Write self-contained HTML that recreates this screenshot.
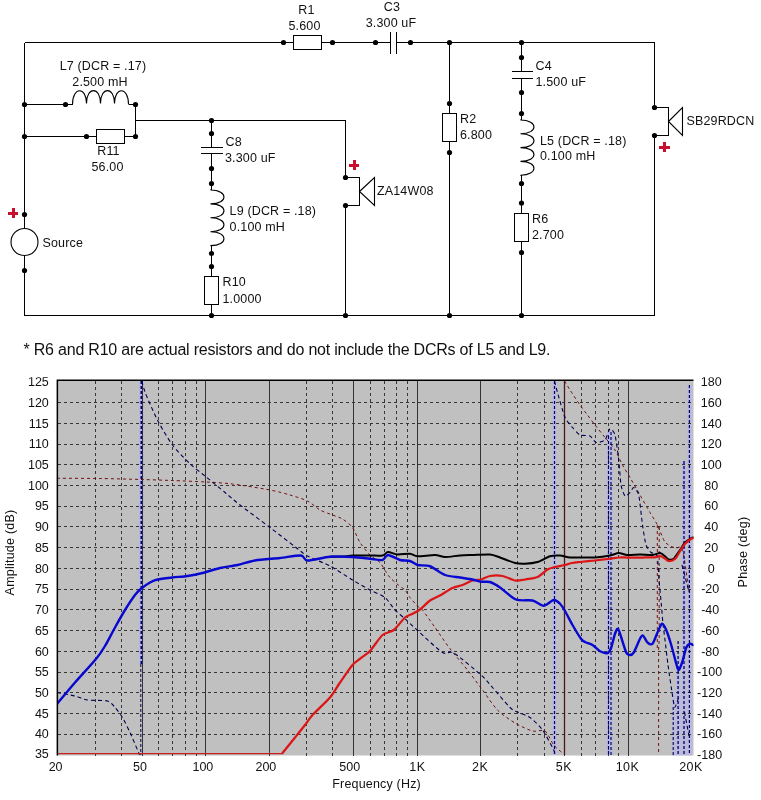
<!DOCTYPE html>
<html lang="en"><head><meta charset="utf-8"><title>Crossover schematic and response</title>
<style>
html,body{margin:0;padding:0;background:#fff;}
body{width:761px;height:800px;overflow:hidden;}
svg{display:block;will-change:transform;font-family:"Liberation Sans",Arial,sans-serif;}
.w{stroke:#000;stroke-width:1;shape-rendering:crispEdges;}
.c{stroke:#000;stroke-width:1.1;fill:none;}
.d{fill:#000;}
.r{fill:#fff;stroke:#000;stroke-width:1;shape-rendering:crispEdges;}
.s{fill:#fff;stroke:#000;stroke-width:1.1;}
.p{stroke:#c8102e;stroke-width:3;fill:none;shape-rendering:crispEdges;}
.t{font-size:12.5px;fill:#111;letter-spacing:0.15px;}
.n{font-size:16px;fill:#111;letter-spacing:-0.21px;}
.a{font-size:12.5px;fill:#111;}
.gh{stroke:#363636;stroke-width:1;stroke-dasharray:3 3;shape-rendering:crispEdges;}
.gv{stroke:#363636;stroke-width:1;stroke-dasharray:3 3;shape-rendering:crispEdges;}
.gs{stroke:#333;stroke-width:1;shape-rendering:crispEdges;}
.B{stroke:#0808d0;stroke-width:2.4;fill:none;stroke-linejoin:round;stroke-linecap:round;}
.R{stroke:#dc1616;stroke-width:2.25;fill:none;stroke-linejoin:round;stroke-linecap:round;}
.R1{stroke:#c82020;stroke-width:1.3;fill:none;}
.K{stroke:#000;stroke-width:2.0;fill:none;stroke-linejoin:round;stroke-linecap:round;}
.bp{stroke:#000050;stroke-width:1.1;fill:none;stroke-dasharray:4 3;}
.bpv{stroke:#00005c;stroke-width:1.3;fill:none;stroke-dasharray:3 2;}
.bh{stroke:#b4b4e6;stroke-width:4;fill:none;}
.rp{stroke:#701010;stroke-width:1;fill:none;stroke-dasharray:3 3;}
.rpv{stroke:#4a1a1a;stroke-width:1.3;fill:none;}
</style></head><body>
<svg width="761" height="800" viewBox="0 0 761 800">
<rect x="0" y="0" width="761" height="800" fill="#fff"/>

<g id="schematic">
<line class="w" x1="24.5" y1="42.5" x2="293.5" y2="42.5"/>
<line class="w" x1="321.5" y1="42.5" x2="390.5" y2="42.5"/>
<line class="w" x1="396.5" y1="42.5" x2="654.5" y2="42.5"/>
<line class="w" x1="24.5" y1="315.5" x2="654.5" y2="315.5"/>
<line class="w" x1="24.5" y1="42.5" x2="24.5" y2="228.5"/>
<line class="w" x1="24.5" y1="255.5" x2="24.5" y2="315.5"/>
<line class="w" x1="654.5" y1="42.5" x2="654.5" y2="107.5"/>
<line class="w" x1="654.5" y1="135.5" x2="654.5" y2="315.5"/>
<rect class="r" x="293.5" y="35.5" width="28" height="14"/>
<line class="w" x1="390.5" y1="32" x2="390.5" y2="53.5"/>
<line class="w" x1="396.5" y1="32" x2="396.5" y2="53.5"/>
<circle class="d" cx="283.5" cy="42.5" r="2.6"/>
<circle class="d" cx="332.5" cy="42.5" r="2.6"/>
<circle class="d" cx="375.5" cy="42.5" r="2.6"/>
<circle class="d" cx="410.5" cy="42.5" r="2.6"/>
<circle class="d" cx="449.5" cy="42.5" r="2.6"/>
<circle class="d" cx="521.5" cy="42.5" r="2.6"/>
<circle class="s" cx="24.5" cy="242" r="13.5"/>
<circle class="d" cx="24.5" cy="104.5" r="2.6"/>
<circle class="d" cx="24.5" cy="136.5" r="2.6"/>
<circle class="d" cx="24.5" cy="214.5" r="2.6"/>
<circle class="d" cx="24.5" cy="270.5" r="2.6"/>
<path class="p" d="M7.6,213.0H18.4M13.0,207.6V218.4"/>
<line class="w" x1="24.5" y1="104.5" x2="72.5" y2="104.5"/>
<circle class="d" cx="65.5" cy="104.5" r="2.6"/>
<path class="c" d="M72.5,104.5 c0,-18.2 14,-18.2 14,-1 c0,-17.2 14,-17.2 14,0 c0,-17.2 14,-17.2 14,0 c0,-17.2 14,-17.2 14,1"/>
<line class="w" x1="128.5" y1="104.5" x2="135.5" y2="104.5"/>
<circle class="d" cx="135.5" cy="104.5" r="2.6"/>
<line class="w" x1="24.5" y1="136.5" x2="96.5" y2="136.5"/>
<circle class="d" cx="86.5" cy="136.5" r="2.6"/>
<rect class="r" x="96.5" y="129.5" width="28" height="14"/>
<line class="w" x1="124.5" y1="136.5" x2="135.5" y2="136.5"/>
<circle class="d" cx="135.5" cy="136.5" r="2.6"/>
<line class="w" x1="135.5" y1="104.5" x2="135.5" y2="136.5"/>
<line class="w" x1="135.5" y1="120.5" x2="345.5" y2="120.5"/>
<line class="w" x1="345.5" y1="120.5" x2="345.5" y2="177.5"/>
<line class="w" x1="345.5" y1="205.5" x2="345.5" y2="315.5"/>
<circle class="d" cx="345.5" cy="177.5" r="2.6"/>
<circle class="d" cx="345.5" cy="205.5" r="2.6"/>
<circle class="d" cx="345.5" cy="315.5" r="2.6"/>
<line class="w" x1="345.5" y1="177.5" x2="359.5" y2="177.5"/>
<line class="w" x1="345.5" y1="205.5" x2="359.5" y2="205.5"/>
<line class="w" x1="359.5" y1="177.5" x2="359.5" y2="205.5"/>
<path class="c" d="M359.5,191.5 L374.5,177.5 V205.5 Z"/>
<path class="p" d="M348.6,165.0H359.4M354.0,159.6V170.4"/>
<circle class="d" cx="211.5" cy="120.5" r="2.6"/>
<line class="w" x1="211.5" y1="120.5" x2="211.5" y2="147.5"/>
<circle class="d" cx="211.5" cy="133.5" r="2.6"/>
<line class="w" x1="200.5" y1="147.5" x2="222.5" y2="147.5"/>
<line class="w" x1="200.5" y1="153.5" x2="222.5" y2="153.5"/>
<line class="w" x1="211.5" y1="153.5" x2="211.5" y2="190"/>
<circle class="d" cx="211.5" cy="168.5" r="2.6"/>
<circle class="d" cx="211.5" cy="183.5" r="2.6"/>
<path class="c" d="M211.5,189.5 L210.5,190 c17.939999999999998,0 17.939999999999998,13.9 0,13.9 c17.939999999999998,0 17.939999999999998,13.9 0,13.9 c17.939999999999998,0 17.939999999999998,13.9 0,13.9 c17.939999999999998,0 17.939999999999998,13.9 0,13.9 L211.5,246.1"/>
<line class="w" x1="211.5" y1="245.6" x2="211.5" y2="276.5"/>
<circle class="d" cx="211.5" cy="253.5" r="2.6"/>
<circle class="d" cx="211.5" cy="266.5" r="2.6"/>
<rect class="r" x="204.5" y="276.5" width="14" height="28"/>
<line class="w" x1="211.5" y1="304.5" x2="211.5" y2="315.5"/>
<circle class="d" cx="211.5" cy="315.5" r="2.6"/>
<line class="w" x1="449.5" y1="42.5" x2="449.5" y2="113.5"/>
<circle class="d" cx="449.5" cy="103.5" r="2.6"/>
<rect class="r" x="442.5" y="113.5" width="14" height="28"/>
<line class="w" x1="449.5" y1="141.5" x2="449.5" y2="315.5"/>
<circle class="d" cx="449.5" cy="152.5" r="2.6"/>
<circle class="d" cx="449.5" cy="315.5" r="2.6"/>
<line class="w" x1="521.5" y1="42.5" x2="521.5" y2="71.5"/>
<circle class="d" cx="521.5" cy="57.5" r="2.6"/>
<line class="w" x1="511.5" y1="71.5" x2="532.5" y2="71.5"/>
<line class="w" x1="511.5" y1="78.5" x2="532.5" y2="78.5"/>
<line class="w" x1="521.5" y1="78.5" x2="521.5" y2="120"/>
<circle class="d" cx="521.5" cy="92.5" r="2.6"/>
<circle class="d" cx="521.5" cy="113.5" r="2.6"/>
<path class="c" d="M521.5,119.5 L520.5,120 c17.939999999999998,0 17.939999999999998,13.8 0,13.8 c17.939999999999998,0 17.939999999999998,13.8 0,13.8 c17.939999999999998,0 17.939999999999998,13.8 0,13.8 c17.939999999999998,0 17.939999999999998,13.8 0,13.8 L521.5,175.7"/>
<line class="w" x1="521.5" y1="175.2" x2="521.5" y2="213.5"/>
<circle class="d" cx="521.5" cy="183.5" r="2.6"/>
<circle class="d" cx="521.5" cy="203" r="2.6"/>
<rect class="r" x="514.5" y="213.5" width="14" height="28"/>
<line class="w" x1="521.5" y1="241.5" x2="521.5" y2="315.5"/>
<circle class="d" cx="521.5" cy="252.5" r="2.6"/>
<circle class="d" cx="521.5" cy="315.5" r="2.6"/>
<circle class="d" cx="654.5" cy="107.5" r="2.6"/>
<circle class="d" cx="654.5" cy="135.5" r="2.6"/>
<line class="w" x1="654.5" y1="107.5" x2="668.5" y2="107.5"/>
<line class="w" x1="654.5" y1="135.5" x2="668.5" y2="135.5"/>
<line class="w" x1="668.5" y1="107.5" x2="668.5" y2="135.5"/>
<path class="c" d="M668.5,121.5 L682.5,107.5 V135.5 Z"/>
<path class="p" d="M659.0,147.0H669.8M664.4,141.6V152.4"/>
<text class="t" x="103" y="70" text-anchor="middle">L7 (DCR = .17)</text>
<text class="t" x="100" y="85.5" text-anchor="middle">2.500 mH</text>
<text class="t" x="108.5" y="155.4" text-anchor="middle">R11</text>
<text class="t" x="107.5" y="171.4" text-anchor="middle">56.00</text>
<text class="t" x="42.5" y="246.5" text-anchor="start">Source</text>
<text class="t" x="225.5" y="145.8" text-anchor="start">C8</text>
<text class="t" x="225" y="162.2" text-anchor="start">3.300 uF</text>
<text class="t" x="229.6" y="215" text-anchor="start">L9 (DCR = .18)</text>
<text class="t" x="229.6" y="230.6" text-anchor="start">0.100 mH</text>
<text class="t" x="222.5" y="286" text-anchor="start">R10</text>
<text class="t" x="222.5" y="302.5" text-anchor="start">1.0000</text>
<text class="t" x="306.5" y="13.8" text-anchor="middle">R1</text>
<text class="t" x="304.5" y="30" text-anchor="middle">5.600</text>
<text class="t" x="392" y="10.8" text-anchor="middle">C3</text>
<text class="t" x="391" y="27" text-anchor="middle">3.300 uF</text>
<text class="t" x="377" y="194.8" text-anchor="start">ZA14W08</text>
<text class="t" x="535.5" y="69.7" text-anchor="start">C4</text>
<text class="t" x="535.5" y="86" text-anchor="start">1.500 uF</text>
<text class="t" x="460" y="123" text-anchor="start">R2</text>
<text class="t" x="460" y="139" text-anchor="start">6.800</text>
<text class="t" x="540" y="144.7" text-anchor="start">L5 (DCR = .18)</text>
<text class="t" x="540" y="160" text-anchor="start">0.100 mH</text>
<text class="t" x="532" y="222.6" text-anchor="start">R6</text>
<text class="t" x="532" y="239.1" text-anchor="start">2.700</text>
<text class="t" x="686.5" y="125.1" text-anchor="start">SB29RDCN</text>
</g>
<text class="n" x="23.5" y="354.5" text-anchor="start">* R6 and R10 are actual resistors and do not include the DCRs of L5 and L9.</text>
<g id="chart">
<rect x="57" y="380.5" width="636.5" height="375.0" fill="#c0c0c0"/>
<line x1="141.5" y1="381" x2="141.5" y2="664" stroke="#b6b6e4" stroke-width="5"/>
<line x1="554.5" y1="381" x2="554.5" y2="755" stroke="#b6b6e4" stroke-width="4"/>
<line x1="609.75" y1="432" x2="609.75" y2="755" stroke="#b6b6e4" stroke-width="6"/>
<line x1="684" y1="461" x2="684" y2="755" stroke="#b6b6e4" stroke-width="4"/>
<line x1="689.5" y1="385" x2="689.5" y2="755" stroke="#b6b6e4" stroke-width="4"/>
<line x1="677.9" y1="655" x2="677.9" y2="755" stroke="#b6b6e4" stroke-width="4"/>
<rect x="671.5" y="690" width="20" height="65.5" fill="#b9b9df" opacity="0.7"/>
<line class="gh" x1="58" y1="734.5" x2="692.0" y2="734.5"/>
<line class="gh" x1="58" y1="713.5" x2="692.0" y2="713.5"/>
<line class="gh" x1="58" y1="692.5" x2="692.0" y2="692.5"/>
<line class="gh" x1="58" y1="672.5" x2="692.0" y2="672.5"/>
<line class="gh" x1="58" y1="651.5" x2="692.0" y2="651.5"/>
<line class="gh" x1="58" y1="630.5" x2="692.0" y2="630.5"/>
<line class="gh" x1="58" y1="609.5" x2="692.0" y2="609.5"/>
<line class="gh" x1="58" y1="589.5" x2="692.0" y2="589.5"/>
<line class="gh" x1="58" y1="568.5" x2="692.0" y2="568.5"/>
<line class="gh" x1="58" y1="547.5" x2="692.0" y2="547.5"/>
<line class="gh" x1="58" y1="526.5" x2="692.0" y2="526.5"/>
<line class="gh" x1="58" y1="506.5" x2="692.0" y2="506.5"/>
<line class="gh" x1="58" y1="485.5" x2="692.0" y2="485.5"/>
<line class="gh" x1="58" y1="464.5" x2="692.0" y2="464.5"/>
<line class="gh" x1="58" y1="444.5" x2="692.0" y2="444.5"/>
<line class="gh" x1="58" y1="423.5" x2="692.0" y2="423.5"/>
<line class="gh" x1="58" y1="402.5" x2="692.0" y2="402.5"/>
<line class="gv" x1="95.5" y1="380.5" x2="95.5" y2="755.5"/>
<line class="gv" x1="121.5" y1="380.5" x2="121.5" y2="755.5"/>
<line class="gs" x1="142.5" y1="380.5" x2="142.5" y2="755.5"/>
<line class="gv" x1="158.5" y1="380.5" x2="158.5" y2="755.5"/>
<line class="gv" x1="172.5" y1="380.5" x2="172.5" y2="755.5"/>
<line class="gv" x1="185.5" y1="380.5" x2="185.5" y2="755.5"/>
<line class="gv" x1="196.5" y1="380.5" x2="196.5" y2="755.5"/>
<line class="gs" x1="205.5" y1="380.5" x2="205.5" y2="755.5"/>
<line class="gs" x1="269.5" y1="380.5" x2="269.5" y2="755.5"/>
<line class="gv" x1="306.5" y1="380.5" x2="306.5" y2="755.5"/>
<line class="gv" x1="332.5" y1="380.5" x2="332.5" y2="755.5"/>
<line class="gs" x1="353.5" y1="380.5" x2="353.5" y2="755.5"/>
<line class="gv" x1="370.5" y1="380.5" x2="370.5" y2="755.5"/>
<line class="gv" x1="384.5" y1="380.5" x2="384.5" y2="755.5"/>
<line class="gv" x1="396.5" y1="380.5" x2="396.5" y2="755.5"/>
<line class="gv" x1="407.5" y1="380.5" x2="407.5" y2="755.5"/>
<line class="gs" x1="417.5" y1="380.5" x2="417.5" y2="755.5"/>
<line class="gs" x1="480.5" y1="380.5" x2="480.5" y2="755.5"/>
<line class="gv" x1="517.5" y1="380.5" x2="517.5" y2="755.5"/>
<line class="gv" x1="544.5" y1="380.5" x2="544.5" y2="755.5"/>
<line class="gs" x1="564.5" y1="380.5" x2="564.5" y2="755.5"/>
<line class="gv" x1="581.5" y1="380.5" x2="581.5" y2="755.5"/>
<line class="gv" x1="595.5" y1="380.5" x2="595.5" y2="755.5"/>
<line class="gv" x1="608.5" y1="380.5" x2="608.5" y2="755.5"/>
<line class="gv" x1="618.5" y1="380.5" x2="618.5" y2="755.5"/>
<line class="gs" x1="628.5" y1="380.5" x2="628.5" y2="755.5"/>
<path d="M57.35,755.5 V380.15 H693.5" fill="none" stroke="#000" stroke-width="1.5"/>
<clipPath id="pc"><rect x="58" y="381.0" width="635.5" height="374.5"/></clipPath>
<g clip-path="url(#pc)">
<path class="rp" d="M57,478.25 C62.73,478.28 88.80,478.33 100,478.5 C111.20,478.67 131.40,479.23 141,479.5 C150.60,479.77 163.33,480.17 172,480.5 C180.67,480.83 197.93,481.53 206,482 C214.07,482.47 223.97,482.93 232.5,484 C241.03,485.07 262.33,488.53 270,490 C277.67,491.47 285.00,493.53 290,495 C295.00,496.47 303.50,499.00 307.5,501 C311.50,503.00 316.67,508.13 320,510 C323.33,511.87 329.50,513.80 332.5,515 C335.50,516.20 339.83,517.33 342.5,519 C345.17,520.67 350.17,524.37 352.5,527.5 C354.83,530.63 357.67,538.83 360,542.5 C362.33,546.17 367.33,552.33 370,555 C372.67,557.67 377.87,560.23 380,562.5 C382.13,564.77 384.67,570.00 386,572 C387.33,574.00 388.53,575.90 390,577.5 C391.47,579.10 395.00,582.33 397,584 C399.00,585.67 403.27,588.20 405,590 C406.73,591.80 408.33,595.37 410,597.5 C411.67,599.63 415.83,604.33 417.5,606 C419.17,607.67 420.17,607.13 422.5,610 C424.83,612.87 431.33,622.33 435,627.5 C438.67,632.67 445.67,643.08 450,648.75 C454.33,654.42 463.17,664.50 467.5,670 C471.83,675.50 478.50,684.67 482.5,690 C486.50,695.33 493.17,705.60 497.5,710 C501.83,714.40 510.33,720.20 515,723 C519.67,725.80 528.50,729.93 532.5,731 C536.50,732.07 542.17,729.13 545,731 C547.83,732.87 551.42,742.07 553.75,745 C556.08,747.93 561.33,751.93 562.5,753"/>
<path class="rp" d="M564.5,381 C565.23,382.20 567.93,386.80 570,390 C572.07,393.20 577.67,401.67 580,405 C582.33,408.33 585.50,412.33 587.5,415 C589.50,417.67 592.67,422.00 595,425 C597.33,428.00 602.33,434.17 605,437.5 C607.67,440.83 612.67,446.33 615,450 C617.33,453.67 620.50,461.33 622.5,465 C624.50,468.67 627.67,473.50 630,477.5 C632.33,481.50 637.33,490.33 640,495 C642.67,499.67 647.67,508.50 650,512.5 C652.33,516.50 655.50,521.07 657.5,525 C659.50,528.93 662.67,538.93 665,542 C667.33,545.07 672.67,546.93 675,548 C677.33,549.07 680.63,544.13 682.5,550 C684.37,555.87 688.13,586.40 689,592"/>
<line class="rpv" x1="564.5" y1="381" x2="564.5" y2="755"/>
<line class="rp" x1="657.3" y1="525" x2="657.3" y2="648"/>
<path class="rp" d="M659.2,527 V640 L658.6,650 V755"/>
<path class="bp" d="M57,692.5 C59.40,692.97 70.93,695.00 75,696 C79.07,697.00 83.17,699.33 87.5,700 C91.83,700.67 103.83,700.00 107.5,701 C111.17,702.00 113.00,705.30 115,707.5 C117.00,709.70 120.50,714.17 122.5,717.5 C124.50,720.83 128.00,728.17 130,732.5 C132.00,736.83 136.23,747.00 137.5,750 C138.77,753.00 139.23,754.33 139.5,755"/>
<path class="bp" d="M141.75,381 C142.18,382.47 143.90,388.93 145,392 C146.10,395.07 148.17,399.93 150,404 C151.83,408.07 155.75,417.03 158.75,422.5 C161.75,427.97 168.33,439.50 172.5,445 C176.67,450.50 185.50,459.48 190,463.75 C194.50,468.02 201.58,473.17 206.25,477 C210.92,480.83 220.50,488.77 225,492.5 C229.50,496.23 234.00,500.33 240,505 C246.00,509.67 262.53,521.83 270,527.5 C277.47,533.17 291.00,543.70 296,547.5 C301.00,551.30 302.97,553.53 307.5,556 C312.03,558.47 324.00,562.80 330,566 C336.00,569.20 347.17,576.80 352.5,580 C357.83,583.20 365.67,587.67 370,590 C374.33,592.33 381.67,594.83 385,597.5 C388.33,600.17 392.33,607.17 395,610 C397.67,612.83 402.00,616.02 405,618.75 C408.00,621.48 412.50,626.00 417.5,630.5 C422.50,635.00 437.67,649.50 442.5,652.5 C447.33,655.50 448.62,650.00 453.75,653 C458.88,656.00 475.83,670.40 481,675 C486.17,679.60 488.63,683.17 492.5,687.5 C496.37,691.83 506.67,704.23 510,707.5 C513.33,710.77 514.83,710.67 517.5,712 C520.17,713.33 526.67,715.10 530,717.5 C533.33,719.90 539.33,725.67 542.5,730 C545.67,734.33 552.15,746.67 553.75,750 C555.35,753.33 554.40,754.33 554.5,755"/>
<path class="bp" d="M554.5,381 C554.80,382.15 556.45,388.85 557.5,392.5 C558.55,396.15 563.50,414.00 565,417.5 C566.50,421.00 571.00,425.75 572.5,427.5 C574.00,429.25 578.25,434.15 580,435 C581.75,435.85 588.40,435.25 590,436 C591.60,436.75 594.50,442.10 596,442.5 C597.50,442.90 603.60,441.38 605,440 C606.40,438.62 609.00,429.25 610,428.75 C611.00,428.25 614.12,431.88 615,435 C615.88,438.12 618.15,455.00 618.75,460 C619.35,465.00 620.38,481.40 621,485 C621.62,488.60 624.10,495.25 625,496 C625.90,496.75 629.12,493.35 630,492.5 C630.88,491.65 632.88,487.25 633.75,487.5 C634.62,487.75 637.88,491.25 638.75,495 C639.62,498.75 641.77,520.00 642.5,525 C643.23,530.00 645.15,542.25 646,545 C646.85,547.75 650.10,551.62 651,552.5 C651.90,553.38 654.35,553.25 655,553.75 C655.65,554.25 657.10,554.88 657.5,557.5 C657.90,560.12 658.62,575.35 659,580 C659.38,584.65 660.92,599.80 661.3,604 C661.68,608.20 662.43,618.40 662.8,622 C663.17,625.60 664.48,635.70 665,640 C665.52,644.30 667.25,659.45 668,665 C668.75,670.55 671.82,691.25 672.5,695.5 C673.18,699.75 674.17,707.35 674.8,707.5 C675.43,707.65 678.40,698.05 678.8,697"/>
<line class="bpv" x1="141.3" y1="381" x2="141.3" y2="664" style="stroke-width:1.6"/>
<line class="bpv" x1="140.8" y1="664" x2="140.8" y2="755" style="stroke-width:1"/>
<line class="bpv" x1="554.5" y1="381" x2="554.5" y2="755" style="stroke-width:1.2"/>
<line class="bpv" x1="608.5" y1="436" x2="608.5" y2="755" style="stroke-width:1.15"/>
<line class="bpv" x1="611" y1="432" x2="611" y2="755" style="stroke-width:1.15"/>
<line class="bpv" x1="673.2" y1="707" x2="673.2" y2="755" style="stroke-width:1.1"/>
<line class="bpv" x1="678.1" y1="641" x2="678.1" y2="755" style="stroke-width:1.3"/>
<line class="bpv" x1="684" y1="461" x2="684" y2="755" style="stroke-width:1.3"/>
<line class="bpv" x1="689.4" y1="385" x2="689.4" y2="755" style="stroke-width:1.2"/>
<polyline class="bp" points="682,565 689,592"/>
<polyline class="bp" points="684.5,712 689,736"/>
<line class="R1" x1="58" y1="753.6" x2="283" y2="753.6"/>
<path class="K" d="M330,556.75 C332.00,556.72 342.00,556.67 345,556.5 C348.00,556.33 349.17,555.63 352.5,555.5 C355.83,555.37 366.00,555.50 370,555.5 C374.00,555.50 380.10,555.97 382.5,555.5 C384.90,555.03 386.00,552.13 388,552 C390.00,551.87 394.57,554.27 397.5,554.5 C400.43,554.73 407.33,553.52 410,553.75 C412.67,553.98 414.17,556.08 417.5,556.25 C420.83,556.42 431.33,554.90 435,555 C438.67,555.10 441.67,556.93 445,557 C448.33,557.07 456.33,555.77 460,555.5 C463.67,555.23 468.50,555.13 472.5,555 C476.50,554.87 486.33,554.17 490,554.5 C493.67,554.83 496.67,556.37 500,557.5 C503.33,558.63 511.67,562.17 515,563 C518.33,563.83 522.00,563.88 525,563.75 C528.00,563.62 534.17,563.00 537.5,562 C540.83,561.00 547.00,557.12 550,556.25 C553.00,555.38 557.33,555.33 560,555.5 C562.67,555.67 567.00,557.23 570,557.5 C573.00,557.77 579.17,557.50 582.5,557.5 C585.83,557.50 591.33,557.77 595,557.5 C598.67,557.23 606.83,556.10 610,555.5 C613.17,554.90 616.42,553.07 618.75,553 C621.08,552.93 624.67,554.80 627.5,555 C630.33,555.20 636.67,554.50 640,554.5 C643.33,554.50 649.83,555.20 652.5,555 C655.17,554.80 658.33,552.83 660,553 C661.67,553.17 663.83,555.38 665,556.25 C666.17,557.12 667.58,559.17 668.75,559.5 C669.92,559.83 672.25,560.02 673.75,558.75 C675.25,557.48 678.50,552.17 680,550 C681.50,547.83 683.50,544.10 685,542.5 C686.50,540.90 690.12,538.67 691.25,538 C692.38,537.33 693.20,537.57 693.5,537.5"/>
<path class="R" d="M282.5,753 C284.17,750.93 292.00,741.23 295,737.5 C298.00,733.77 302.67,728.00 305,725 C307.33,722.00 309.17,718.67 312.5,715 C315.83,711.33 326.33,701.83 330,697.5 C333.67,693.17 337.00,686.83 340,682.5 C343.00,678.17 349.83,668.17 352.5,665 C355.17,661.83 357.67,660.62 360,658.75 C362.33,656.88 367.00,654.17 370,651 C373.00,647.83 379.33,637.80 382.5,635 C385.67,632.20 390.75,632.33 393.75,630 C396.75,627.67 402.50,619.67 405,617.5 C407.50,615.33 410.50,614.82 412.5,613.75 C414.50,612.68 417.67,611.27 420,609.5 C422.33,607.73 427.33,602.37 430,600.5 C432.67,598.63 437.00,597.17 440,595.5 C443.00,593.83 449.50,589.40 452.5,588 C455.50,586.60 459.83,586.00 462.5,585 C465.17,584.00 470.03,581.23 472.5,580.5 C474.97,579.77 478.67,580.10 481,579.5 C483.33,578.90 487.13,576.47 490,576 C492.87,575.53 499.17,575.40 502.5,576 C505.83,576.60 512.00,580.03 515,580.5 C518.00,580.97 522.00,579.97 525,579.5 C528.00,579.03 534.50,578.33 537.5,577 C540.50,575.67 545.17,570.83 547.5,569.5 C549.83,568.17 552.67,567.60 555,567 C557.33,566.40 562.73,565.53 565,565 C567.27,564.47 570.00,563.40 572,563 C574.00,562.60 576.93,562.33 580,562 C583.07,561.67 591.00,560.93 595,560.5 C599.00,560.07 606.80,559.15 610,558.75 C613.20,558.35 616.67,557.67 619,557.5 C621.33,557.33 624.37,557.50 627.5,557.5 C630.63,557.50 638.83,557.53 642.5,557.5 C646.17,557.47 652.67,557.50 655,557.3 C657.33,557.10 658.67,555.84 660,556 C661.33,556.16 663.83,557.83 665,558.5 C666.17,559.17 667.42,560.93 668.75,561 C670.08,561.07 673.50,560.30 675,559 C676.50,557.70 678.67,553.28 680,551.25 C681.33,549.22 683.50,545.42 685,543.75 C686.50,542.08 690.12,539.52 691.25,538.75 C692.38,537.98 693.20,538.10 693.5,538"/>
<path class="B" d="M57,704 C59.40,701.13 69.80,688.50 75,682.5 C80.20,676.50 92.00,663.87 96,659 C100.00,654.13 102.47,650.20 105,646 C107.53,641.80 112.33,632.30 115,627.5 C117.67,622.70 122.33,614.33 125,610 C127.67,605.67 132.87,597.83 135,595 C137.13,592.17 139.00,590.42 141,588.75 C143.00,587.08 147.80,583.73 150,582.5 C152.20,581.27 154.50,580.17 157.5,579.5 C160.50,578.83 168.50,577.97 172.5,577.5 C176.50,577.03 183.50,576.60 187.5,576 C191.50,575.40 198.17,574.07 202.5,573 C206.83,571.93 215.33,569.07 220,568 C224.67,566.93 232.83,566.00 237.5,565 C242.17,564.00 249.33,561.43 255,560.5 C260.67,559.57 273.87,558.67 280,558 C286.13,557.33 297.33,555.17 301,555.5 C304.67,555.83 303.63,560.33 307.5,560.5 C311.37,560.67 324.00,557.22 330,556.75 C336.00,556.28 347.17,556.73 352.5,557 C357.83,557.27 366.00,558.35 370,558.75 C374.00,559.15 380.10,560.50 382.5,560 C384.90,559.50 385.67,555.00 388,555 C390.33,555.00 397.07,559.20 400,560 C402.93,560.80 407.67,560.33 410,561 C412.33,561.67 414.83,564.30 417.5,565 C420.17,565.70 426.33,564.92 430,566.25 C433.67,567.58 441.00,573.50 445,575 C449.00,576.50 456.33,576.90 460,577.5 C463.67,578.10 469.70,578.93 472.5,579.5 C475.30,580.07 478.67,581.42 481,581.75 C483.33,582.08 487.47,581.23 490,582 C492.53,582.77 496.53,585.17 500,587.5 C503.47,589.83 511.67,597.77 516,599.5 C520.33,601.23 528.80,599.67 532.5,600.5 C536.20,601.33 540.92,605.82 543.75,605.75 C546.58,605.68 551.58,600.27 553.75,600 C555.92,599.73 558.50,602.28 560,603.75 C561.50,605.22 563.33,608.17 565,611 C566.67,613.83 570.37,621.30 572.5,625 C574.63,628.70 579.33,636.48 581,638.75 C582.67,641.02 583.47,641.17 585,642 C586.53,642.83 590.50,643.77 592.5,645 C594.50,646.23 598.00,650.18 600,651.25 C602.00,652.32 606.00,653.50 607.5,653 C609.00,652.50 610.25,650.07 611.25,647.5 C612.25,644.93 614.10,636.25 615,633.75 C615.90,631.25 617.17,628.25 618,628.75 C618.83,629.25 620.15,634.33 621.25,637.5 C622.35,640.67 625.08,650.17 626.25,652.5 C627.42,654.83 629.00,655.00 630,655 C631.00,655.00 632.42,654.67 633.75,652.5 C635.08,650.33 638.77,641.02 640,638.75 C641.23,636.48 642.00,635.00 643,635.5 C644.00,636.00 646.23,641.40 647.5,642.5 C648.77,643.60 651.17,645.08 652.5,643.75 C653.83,642.42 656.23,635.17 657.5,632.5 C658.77,629.83 660.83,624.08 662,623.75 C663.17,623.42 665.02,627.17 666.25,630 C667.48,632.83 669.92,640.50 671.25,645 C672.58,649.50 675.25,660.42 676.25,663.75 C677.25,667.08 677.92,670.33 678.75,670 C679.58,669.67 681.50,664.25 682.5,661.25 C683.50,658.25 685.25,649.83 686.25,647.5 C687.25,645.17 689.10,644.08 690,643.75 C690.90,643.42 692.60,644.83 693,645"/>
</g>
<clipPath id="tc"><rect x="0" y="377.3" width="761" height="30"/></clipPath>
<text class="a" x="48.8" y="758.4" text-anchor="end">35</text>
<text class="a" x="48.8" y="738.4" text-anchor="end">40</text>
<text class="a" x="48.8" y="717.7" text-anchor="end">45</text>
<text class="a" x="48.8" y="696.9" text-anchor="end">50</text>
<text class="a" x="48.8" y="676.2" text-anchor="end">55</text>
<text class="a" x="48.8" y="655.5" text-anchor="end">60</text>
<text class="a" x="48.8" y="634.8" text-anchor="end">65</text>
<text class="a" x="48.8" y="614.0" text-anchor="end">70</text>
<text class="a" x="48.8" y="593.3" text-anchor="end">75</text>
<text class="a" x="48.8" y="572.6" text-anchor="end">80</text>
<text class="a" x="48.8" y="551.9" text-anchor="end">85</text>
<text class="a" x="48.8" y="531.1" text-anchor="end">90</text>
<text class="a" x="48.8" y="510.4" text-anchor="end">95</text>
<text class="a" x="48.8" y="489.7" text-anchor="end">100</text>
<text class="a" x="48.8" y="469.0" text-anchor="end">105</text>
<text class="a" x="48.8" y="448.3" text-anchor="end">110</text>
<text class="a" x="48.8" y="427.5" text-anchor="end">115</text>
<text class="a" x="48.8" y="406.8" text-anchor="end">120</text>
<text class="a" x="48.8" y="386.4" text-anchor="end" clip-path="url(#tc)">125</text>
<text class="a" x="711.3" y="386.2" text-anchor="middle" clip-path="url(#tc)">180</text>
<text class="a" x="711.3" y="406.8" text-anchor="middle">160</text>
<text class="a" x="711.3" y="427.5" text-anchor="middle">140</text>
<text class="a" x="711.3" y="448.3" text-anchor="middle">120</text>
<text class="a" x="711.3" y="469.0" text-anchor="middle">100</text>
<text class="a" x="711.3" y="489.7" text-anchor="middle">80</text>
<text class="a" x="711.3" y="510.4" text-anchor="middle">60</text>
<text class="a" x="711.3" y="531.1" text-anchor="middle">40</text>
<text class="a" x="711.3" y="551.9" text-anchor="middle">20</text>
<text class="a" x="711.3" y="572.6" text-anchor="middle">0</text>
<text class="a" x="710.2" y="593.3" text-anchor="middle">-20</text>
<text class="a" x="710.2" y="614.0" text-anchor="middle">-40</text>
<text class="a" x="710.2" y="634.8" text-anchor="middle">-60</text>
<text class="a" x="710.2" y="655.5" text-anchor="middle">-80</text>
<text class="a" x="709.6" y="676.2" text-anchor="middle">-100</text>
<text class="a" x="709.6" y="696.9" text-anchor="middle">-120</text>
<text class="a" x="709.6" y="717.7" text-anchor="middle">-140</text>
<text class="a" x="709.6" y="738.4" text-anchor="middle">-160</text>
<text class="a" x="709.6" y="758.5" text-anchor="middle">-180</text>
<text class="a" x="55.6" y="770.6" text-anchor="middle">20</text>
<text class="a" x="140.0" y="770.6" text-anchor="middle">50</text>
<text class="a" x="202.9" y="770.6" text-anchor="middle">100</text>
<text class="a" x="265.9" y="770.6" text-anchor="middle">200</text>
<text class="a" x="349.8" y="770.6" text-anchor="middle">500</text>
<text class="a" x="417.4" y="770.6" text-anchor="middle" style="letter-spacing:0.5px">1K</text>
<text class="a" x="480.1" y="770.6" text-anchor="middle" style="letter-spacing:0.5px">2K</text>
<text class="a" x="564.0" y="770.6" text-anchor="middle" style="letter-spacing:0.5px">5K</text>
<text class="a" x="627.5" y="770.6" text-anchor="middle" style="letter-spacing:0.5px">10K</text>
<text class="a" x="691.0" y="770.6" text-anchor="middle" style="letter-spacing:0.5px">20K</text>
<text class="a" x="376.6" y="788.3" text-anchor="middle" style="letter-spacing:0.18px">Frequency (Hz)</text>
<text class="a" text-anchor="middle" style="letter-spacing:0.22px" transform="translate(14.2,552.5) rotate(-90)">Amplitude (dB)</text>
<text class="a" text-anchor="middle" style="letter-spacing:0.25px" transform="translate(746.6,552) rotate(-90)">Phase (deg)</text>
</g>
</svg></body></html>
